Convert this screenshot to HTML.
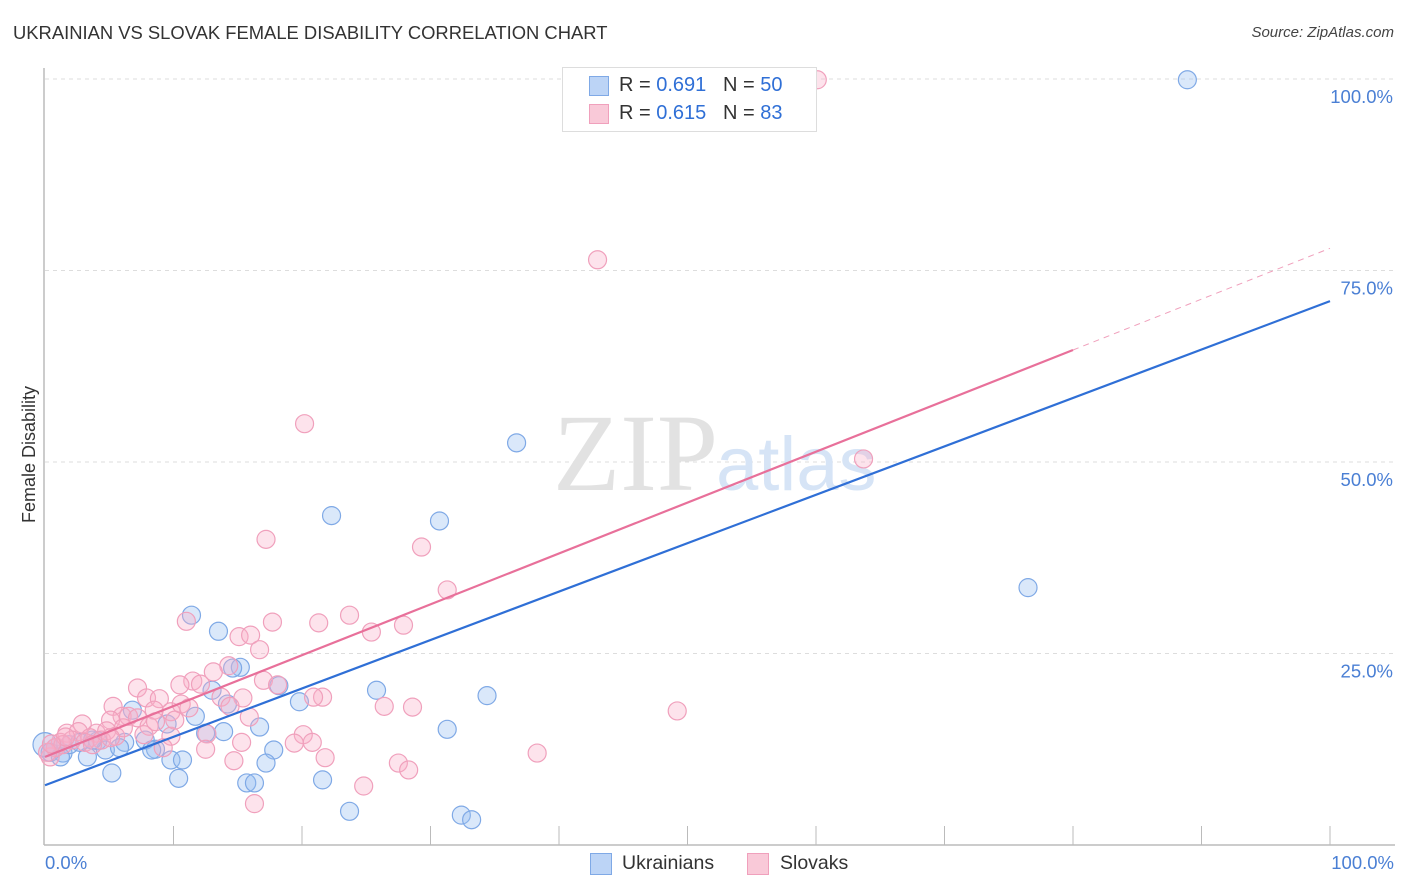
<!DOCTYPE html>
<html><head><meta charset="utf-8">
<style>
body{margin:0;background:#fff;font-family:"Liberation Sans",sans-serif;}
#wrap{position:relative;width:1406px;height:892px;overflow:hidden;}
.t{position:absolute;white-space:nowrap;}
</style></head>
<body>
<div id="wrap">
<div class="t" style="left:13px;top:22px;font-size:18.4px;color:#333;">UKRAINIAN VS SLOVAK FEMALE DISABILITY CORRELATION CHART</div>
<div class="t" style="right:12px;top:24px;font-size:15px;color:#444;font-style:italic;">Source: ZipAtlas.com</div>
<svg id="svg" width="1406" height="892" style="position:absolute;left:0;top:0"></svg>
</div>
<script>
const bx=[88.9,36.7,22.3,30.7,76.5,11.4,13.5,15.2,14.6,18.2,13.0,25.8,34.4,19.8,14.2,11.7,9.5,6.8,16.7,13.9,12.5,31.3,4.1,6.2,7.8,4.7,5.8,8.6,8.3,17.8,3.3,1.4,0.8,0.4,9.8,10.7,17.2,5.2,10.4,21.6,15.7,16.3,23.7,32.4,33.2,0,1.9,2.7,3.7,1.2];
const by=[99.9,52.5,43.0,42.3,33.6,30.0,27.9,23.2,23.1,20.8,20.2,20.2,19.5,18.7,18.4,16.8,15.8,17.6,15.4,14.8,14.6,15.1,13.6,13.4,13.7,12.4,12.7,12.5,12.4,12.4,11.5,12.0,12.7,12.1,11.1,11.1,10.7,9.4,8.7,8.5,8.1,8.1,4.4,3.9,3.3,13.1,13.1,13.4,13.7,11.5];
const px=[60.1,43.0,20.2,63.7,17.2,29.3,31.3,11.0,23.7,17.7,21.3,27.9,25.4,15.1,16.0,16.7,14.3,13.1,11.5,10.5,12.1,7.2,17.0,18.1,7.9,8.9,15.4,21.6,20.9,26.4,28.6,49.2,5.3,6.0,6.5,8.5,9.8,10.6,13.7,15.9,5.1,7.2,2.9,1.7,2.6,4.0,4.8,8.1,9.8,12.6,20.1,7.7,1.2,3.5,4.4,5.5,15.3,19.4,20.8,9.2,12.5,38.3,21.8,14.7,27.5,28.3,24.8,16.3,0.4,0.8,2.1,3.1,1.4,0.2,6.1,11.2,8.6,14.4,10.1,3.7,1.6,0.5,5.1];
const py=[99.9,76.4,55.0,50.4,39.9,38.9,33.3,29.2,30.0,29.1,29.0,28.7,27.8,27.2,27.4,25.5,23.4,22.6,21.4,20.9,21.0,20.5,21.5,20.9,19.2,19.1,19.2,19.3,19.3,18.1,18.0,17.5,18.1,16.8,16.8,17.6,17.4,18.4,19.3,16.7,16.3,16.6,15.8,14.6,14.8,14.6,14.9,15.5,14.2,14.5,14.4,14.4,13.4,14.0,13.7,14.2,13.4,13.3,13.4,12.7,12.5,12.0,11.4,11.0,10.7,9.8,7.7,5.4,11.5,12.7,13.7,13.4,13.1,12.1,15.3,17.9,16.1,18.1,16.3,13.1,14.1,13.2,14.0];
const yTicks=[25,50,75,100];
const yTickLabels=["25.0%","50.0%","75.0%","100.0%"];
const blueFit=[7.8,71.0];
const pinkFit=[11.5,77.9];
const pinkSolidEnd=80;

const X=v=>45+v*12.85, Y=v=>845-v*7.66;
const svg=document.getElementById('svg');
const NS='http://www.w3.org/2000/svg';
function mk(t,a,name){const e=document.createElementNS(NS,t);for(const k in a)e.setAttribute(k,a[k]);


svg.appendChild(e);return e;}
yTicks.forEach((v,i)=>{
 mk('line',{x1:45,x2:1395,y1:Y(v),y2:Y(v),stroke:'#ddd','stroke-dasharray':'4,4'},'gridline');
 const t=mk('text',{x:1393,y:Y(v)+24,'text-anchor':'end','font-size':18.5,fill:'#4a7fd4','font-family':'Liberation Sans'},'y-tick-label');t.textContent=yTickLabels[i];
});
mk('line',{x1:44,x2:44,y1:68,y2:845,stroke:'#bbb','stroke-width':1.5},'y-axis-line');
mk('line',{x1:44,x2:1395,y1:845,y2:845,stroke:'#bbb','stroke-width':1.5},'x-axis-line');
for(let i=1;i<=10;i++)mk('line',{x1:X(i*10),x2:X(i*10),y1:826,y2:845,stroke:'#bbb'},'x-tick');
let w=mk('text',{x:553,y:490,'font-size':110,fill:'#e2e2e2','font-family':'Liberation Serif'},'watermark-zip');w.textContent='ZIP';
w=mk('text',{x:716,y:490,'font-size':76,fill:'#d6e4f6','font-family':'Liberation Sans'},'watermark-atlas');w.textContent='atlas';
bx.forEach((v,i)=>mk('circle',{cx:X(v),cy:Y(by[i]),r:(v===0?12:9),fill:'rgba(150,190,240,0.35)',stroke:'#7fa9e6','stroke-width':1.2},'ukrainian-point'));
px.forEach((v,i)=>mk('circle',{cx:X(v),cy:Y(py[i]),r:9,fill:'rgba(248,175,200,0.35)',stroke:'#f0a0bc','stroke-width':1.2},'slovak-point'));
mk('line',{x1:X(0),y1:Y(blueFit[0]),x2:X(100),y2:Y(blueFit[1]),stroke:'#2f6fd6','stroke-width':2.2},'ukrainian-trendline');
const pf=x=>pinkFit[0]+(pinkFit[1]-pinkFit[0])*x/100;
mk('line',{x1:X(0),y1:Y(pf(0)),x2:X(pinkSolidEnd),y2:Y(pf(pinkSolidEnd)),stroke:'#e8709a','stroke-width':2.2},'slovak-trendline');
mk('line',{x1:X(pinkSolidEnd),y1:Y(pf(pinkSolidEnd)),x2:X(100),y2:Y(pf(100)),stroke:'#f0a0bc','stroke-width':1,'stroke-dasharray':'6,5'},'slovak-trendline-extension');
</script>
<div class="t" style="left:-39px;top:444px;font-size:18px;color:#333;transform:rotate(-90deg);">Female Disability</div>
<div class="t" style="left:45px;top:852px;font-size:18.5px;color:#4a7fd4;">0.0%</div>
<div class="t" style="right:12px;top:852px;font-size:18.5px;color:#4a7fd4;">100.0%</div>
<div style="position:absolute;left:562px;top:67px;width:253px;height:63px;border:1px solid #ddd;background:#fff;font-size:20px;color:#333;">
 <div style="position:absolute;left:26px;top:8px;width:18px;height:18px;background:#bcd4f6;border:1px solid #7fa9e6;"></div>
 <div class="t" style="left:56px;top:6px;">R = <span style="color:#2f6fd6">0.691</span>&nbsp;&nbsp;&nbsp;N = <span style="color:#2f6fd6">50</span></div>
 <div style="position:absolute;left:26px;top:36px;width:18px;height:18px;background:#f9c9d8;border:1px solid #f0a0bc;"></div>
 <div class="t" style="left:56px;top:34px;">R = <span style="color:#2f6fd6">0.615</span>&nbsp;&nbsp;&nbsp;N = <span style="color:#2f6fd6">83</span></div>
</div>
<div style="position:absolute;left:590px;top:852px;font-size:19.5px;color:#333;">
 <div style="position:absolute;left:0;top:1px;width:20px;height:20px;background:#bcd4f6;border:1px solid #7fa9e6;"></div>
 <div class="t" style="left:32px;top:0;">Ukrainians</div>
 <div style="position:absolute;left:157px;top:1px;width:20px;height:20px;background:#f9c9d8;border:1px solid #f0a0bc;"></div>
 <div class="t" style="left:190px;top:0;">Slovaks</div>
</div>
</body></html>
